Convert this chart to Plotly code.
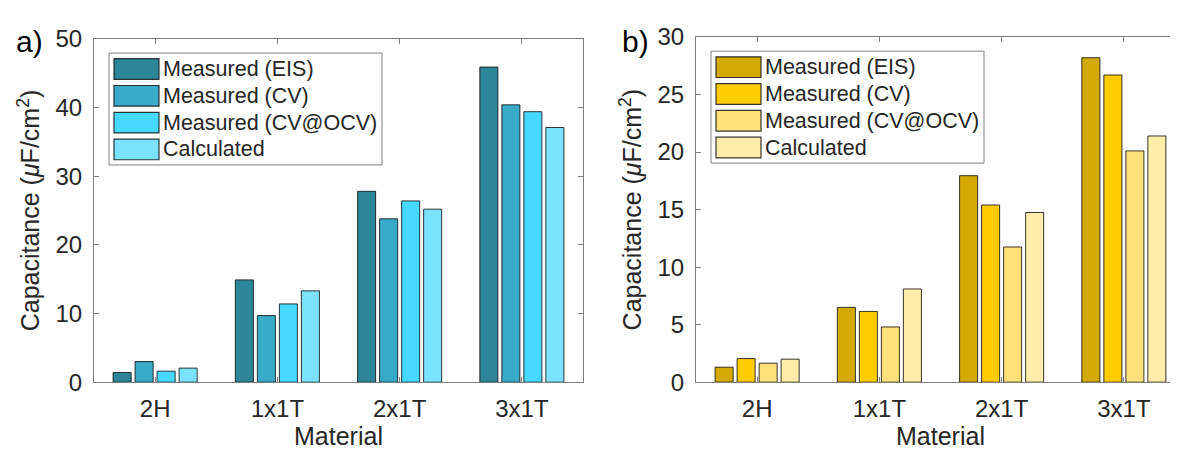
import plotly.graph_objects as go

# ---------------- data ----------------
materials = ["2H", "1x1T", "2x1T", "3x1T"]
series_names = ["Measured (EIS)", "Measured (CV)", "Measured (CV@OCV)", "Calculated"]

# panel a)
a_eis = [1.4, 14.9, 27.8, 45.9]
a_cv = [3.0, 9.7, 23.8, 40.4]
a_ocv = [1.6, 11.4, 26.4, 39.4]
a_calc = [2.05, 13.3, 25.2, 37.1]

# panel b)
b_eis = [1.3, 6.5, 17.95, 28.2]
b_cv = [2.05, 6.15, 15.4, 26.7]
b_ocv = [1.65, 4.8, 11.75, 20.1]
b_calc = [2.0, 8.1, 14.75, 21.4]

a_colors = ["#2B8699", "#37ABC8", "#46D9FF", "#7BE3FF"]
b_colors = ["#D4AA00", "#FFCC00", "#FFE17A", "#FFEEAA"]

a_ticks = [0, 10, 20, 30, 40, 50]
b_ticks = [0, 5, 10, 15, 20, 25, 30]

panel_labels = ["a)", "b)"]
y_title = "Capacitance (<i>μ</i>F/cm<sup>2</sup>)"
x_title = "Material"

# ---------------- geometry (pixels) ----------------
W, H = 1178, 453
AX = {"a": (86, 575, 18, 383), "b": (688, 1177, 16, 383)}
FONT = "Liberation Sans, Arial, sans-serif"
TXT = "#262626"
FRAME = "#808080"

fig = go.Figure()

panels = [
    ("a", "x", "y", [a_eis, a_cv, a_ocv, a_calc], a_colors),
    ("b", "x2", "y2", [b_eis, b_cv, b_ocv, b_calc], b_colors),
]

for key, xa, ya, series, cols in panels:
    for name, vals, c in zip(series_names, series, cols):
        fig.add_trace(go.Bar(
            x=materials, y=vals, name=name, xaxis=xa, yaxis=ya,
            marker=dict(color=c, line=dict(color="rgba(20,20,20,0.85)", width=1)),
            showlegend=False,
        ))


def dom_x(key, px):
    x0, x1, _, _ = AX[key]
    return (px - x0) / (x1 - x0)


def dom_y(key, py):
    _, _, y0, y1 = AX[key]
    return (y1 - py) / (y1 - y0)


axis_common = dict(
    showline=True, linecolor=FRAME, linewidth=1, mirror="ticks",
    ticks="inside", ticklen=5, tickcolor=FRAME, tickwidth=1,
    showgrid=False, zeroline=False,
    tickfont=dict(family=FONT, size=24, color=TXT),
)

layout = dict(
    width=W, height=H, margin=dict(l=0, r=0, t=0, b=0),
    paper_bgcolor="white", plot_bgcolor="white",
    barmode="group", bargap=0.28, bargroupgap=0.18,
    showlegend=False,
)

for key, xa, ya, ticks in [("a", "xaxis", "yaxis", a_ticks), ("b", "xaxis2", "yaxis2", b_ticks)]:
    x0, x1, yt, yb = AX[key]
    xd = dict(axis_common)
    xd.update(domain=[x0 / W, x1 / W], range=[-0.5, 3.5], type="category",
              anchor="y" if key == "a" else "y2",
              title=dict(text=x_title, font=dict(family=FONT, size=25, color=TXT), standoff=6),
              ticklabelstandoff=5)
    yd = dict(axis_common)
    yd.update(domain=[(H - yb) / H, (H - yt) / H], range=[0, ticks[-1]],
              tickvals=ticks, anchor="x" if key == "a" else "x2",
              title=dict(text=y_title, font=dict(family=FONT, size=25, color=TXT), standoff=8),
              ticklabelstandoff=6)
    layout[xa] = xd
    layout[ya] = yd

fig.update_layout(**layout)

# ---------------- legends (boxes, swatches, labels) ----------------
shapes = []
annotations = []
for key, xa, ya, cols in [("a", "x", "y", a_colors), ("b", "x2", "y2", b_colors)]:
    x0, x1, yt, yb = AX[key]
    box_top = yt + 15
    xr, yr = xa + " domain", ya + " domain"
    shapes.append(dict(type="rect", xref=xr, yref=yr,
                       x0=dom_x(key, x0 + 15), x1=dom_x(key, x0 + 288),
                       y0=dom_y(key, box_top), y1=dom_y(key, box_top + 119),
                       line=dict(color=FRAME, width=1), fillcolor="white", layer="above"))
    for i, (name, c) in enumerate(zip(series_names, cols)):
        top = box_top + 6 + i * 28.5
        shapes.append(dict(type="rect", xref=xr, yref=yr,
                           x0=dom_x(key, x0 + 20), x1=dom_x(key, x0 + 65),
                           y0=dom_y(key, top), y1=dom_y(key, top + 22),
                           line=dict(color="rgba(20,20,20,0.85)", width=1.2),
                           fillcolor=c, layer="above"))
        annotations.append(dict(xref=xr, yref=yr, x=dom_x(key, x0 + 67), y=dom_y(key, top + 11),
                                text=name, showarrow=False, xanchor="left", yanchor="middle",
                                font=dict(family=FONT, size=21.5, color=TXT)))

annotations.append(dict(xref="paper", yref="paper", x=6 / W, y=1 - 21 / H, text=panel_labels[0],
                        showarrow=False, xanchor="left", yanchor="middle",
                        font=dict(family=FONT, size=30, color="black")))
annotations.append(dict(xref="paper", yref="paper", x=612 / W, y=1 - 21 / H, text=panel_labels[1],
                        showarrow=False, xanchor="left", yanchor="middle",
                        font=dict(family=FONT, size=30, color="black")))

fig.update_layout(shapes=shapes, annotations=annotations)
fig.write_html("out.html")
